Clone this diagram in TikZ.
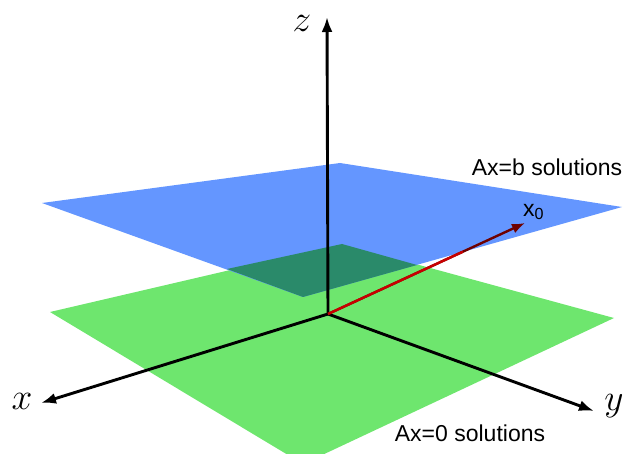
\documentclass[tikz,border=0pt]{standalone}
\usepackage{fontspec}
\setmainfont{Liberation Sans}
\usetikzlibrary{arrows.meta,calc}
\definecolor{planeblue}{RGB}{100,150,255}
\definecolor{planegreen}{RGB}{110,230,110}
\definecolor{overlap}{RGB}{42,138,106}
\definecolor{vecred}{RGB}{200,0,0}
\definecolor{vecdark}{RGB}{110,0,0}
\tikzset{
  axis/.style={line width=2.9pt,-{Latex[length=15pt,width=11pt]}},
  vec/.style={line width=2.4pt},
  axlabel/.style={font=\Huge, scale=1.5, inner sep=0pt},
  txt/.style={font=\fontsize{23}{27}\selectfont, inner sep=0pt}
}
\begin{document}
\begin{tikzpicture}[x=1pt,y=-1pt]
\useasboundingbox (0,0) rectangle (627,454);
% planes
\fill[planegreen] (50,312) -- (342,244) -- (614,318) -- (303,464) -- cycle;
\fill[planeblue] (42,203) -- (340,163) -- (622,207) -- (303,297) -- cycle;
\fill[overlap] (227,269) -- (342,244) -- (417,265) -- (303,297) -- cycle;
% axes
\coordinate (o) at (328,314);
\coordinate (zt) at (327,17);
\coordinate (xt) at (41,403);
\coordinate (yt) at (594,411);
\draw[axis] (o) -- (zt);
\draw[axis] (o) -- (xt);
\draw[axis] (o) -- (yt);
% vector
\coordinate (vt) at (525,223);
\draw[vec,vecdark,-{Latex[length=13pt,width=10pt]}] (o) -- (vt);
\draw[vec,vecred] (o) -- ($(o)!0.685!(vt)$);
% labels
\node[axlabel] (zl) at (302,23) {$z$};
\node[axlabel] (xl) at (22,401) {$x$};
\node[axlabel] (yl) at (614,406) {$y$};
\node[txt] (bl) at (547,167) {Ax=b solutions};
\node[txt] (al) at (470,433) {Ax=0 solutions};
\node[txt,anchor=west] (x0) at (523,212) {x\textsubscript{0}};
\end{tikzpicture}
\end{document}
